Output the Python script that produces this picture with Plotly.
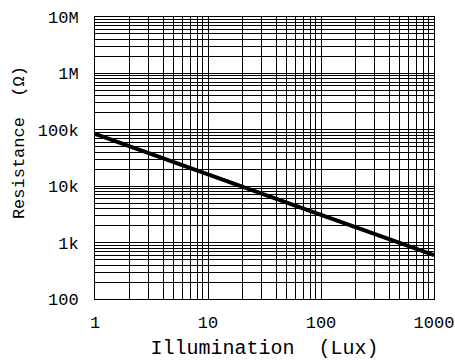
import plotly.graph_objects as go

lux = [1, 10, 100, 1000]
resistance = [85000, 16000, 3100, 600]

x_ticks = [1, 10, 100, 1000]
x_labels = ["1", "10", "100", "1000"]
y_ticks = [100, 1000, 10000, 100000, 1000000, 10000000]
y_labels = ["100", "1k", "10k", "100k", "1M", "10M"]

mono = "Liberation Mono, Courier New, monospace"

fig = go.Figure()
fig.add_trace(go.Scatter(x=lux, y=resistance, mode="lines",
                         line=dict(color="black", width=4), showlegend=False))

common = dict(type="log", showline=True, mirror=True, linecolor="black", linewidth=1,
              showgrid=True, gridcolor="black", gridwidth=1, ticks="",
              zeroline=False, layer="below traces", automargin=False,
              minor=dict(showgrid=True, dtick="D1", gridcolor="black", gridwidth=1, ticks=""),
              tickfont=dict(family=mono, size=17, color="black"))

fig.update_xaxes(range=[0, 3], tickmode="array", tickvals=x_ticks, ticktext=x_labels,
                 ticklabelstandoff=8,
                 title=dict(text="Illumination  (Lux)", font=dict(family=mono, size=20, color="black"),
                            standoff=9), **common)
fig.update_yaxes(range=[2, 7], tickmode="array", tickvals=y_ticks, ticktext=y_labels,
                 ticklabelstandoff=12, **common)

fig.add_annotation(text="Resistance  (Ω)", xref="paper", yref="paper", x=-0.224, y=0.553,
                   xanchor="center", yanchor="middle", textangle=-90, showarrow=False,
                   font=dict(family=mono, size=17, color="black"))

fig.update_layout(width=455, height=360, margin=dict(l=95, r=21, t=17, b=61),
                  plot_bgcolor="white", paper_bgcolor="white")
fig.write_html("out.html", config={"displayModeBar": False},
               post_script="document.body.style.margin='0';document.body.style.padding='0';")
